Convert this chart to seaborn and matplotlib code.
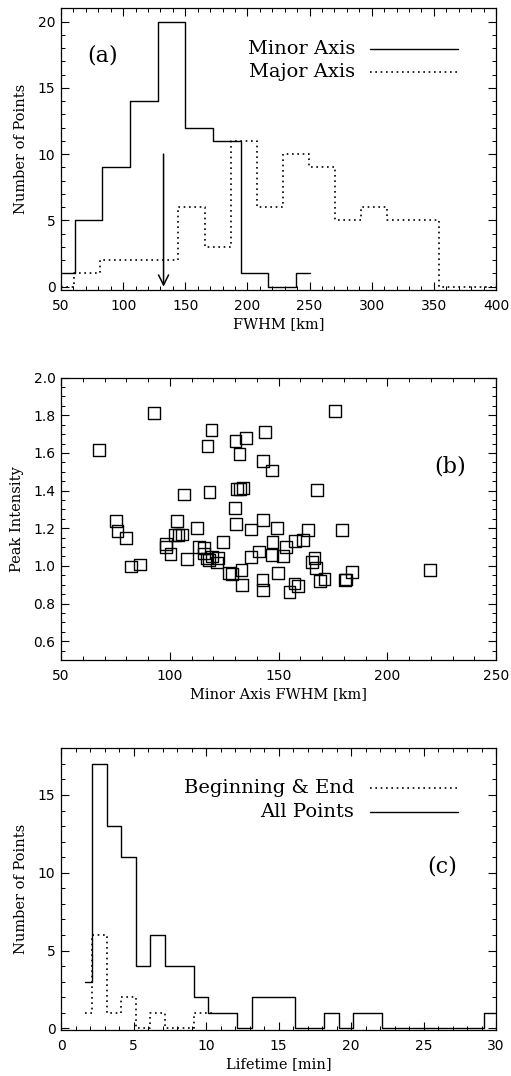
import matplotlib
matplotlib.use("Agg")
import matplotlib.pyplot as plt
from matplotlib.ticker import MultipleLocator, FormatStrFormatter
import seaborn as sns

# panel (a): FWHM histograms (bin centres, counts)
minor_centers = [50.0, 72.2, 94.4, 116.7, 138.9, 161.1, 183.3, 205.6, 227.8, 250.0]
minor_counts = [1, 5, 9, 14, 20, 12, 11, 1, 0, 1]
major_centers = [50, 71, 92, 113, 134, 155, 176, 197, 218, 239, 260, 281, 302,
                 323, 344, 365, 386, 407]
major_counts = [0, 1, 2, 2, 2, 6, 3, 11, 6, 10, 9, 5, 6, 5, 5, 0, 0, 0]
mean_minor = 132.5

# panel (b): minor axis FWHM vs peak intensity
fwhm = [67.5, 92.8, 75.4, 76.0, 80.0, 82.2, 86.3, 98.3, 98.3, 100.3,
        102.4, 104.0, 105.5, 103.5, 106.7, 107.8, 112.7, 113.6, 115.8, 115.9,
        117.0, 118.1, 119.3, 121.6, 122.3, 124.6, 117.3, 119.2, 118.3, 127.3,
        128.6, 133.0, 133.1, 130.0, 130.4, 130.2, 132.1, 134.9, 130.8, 132.2,
        133.6, 137.2, 137.4, 141.2, 142.7, 143.8, 142.8, 146.9, 147.2, 146.9,
        142.6, 142.7, 149.9, 149.2, 152.2, 153.4, 157.6, 161.1, 155.0, 157.3,
        159.1, 163.7, 165.3, 166.5, 167.1, 167.8, 169.1, 171.1, 176.1, 179.1,
        180.5, 181.2, 183.7, 219.8]
peak = [1.617, 1.811, 1.240, 1.186, 1.150, 0.997, 1.008, 1.118, 1.100, 1.063,
        1.165, 1.165, 1.167, 1.238, 1.379, 1.037, 1.202, 1.100, 1.094, 1.066,
        1.039, 1.031, 1.050, 1.018, 1.040, 1.125, 1.639, 1.721, 1.392, 0.961,
        0.956, 0.978, 0.898, 1.306, 1.222, 1.662, 1.594, 1.678, 1.408, 1.410,
        1.412, 1.193, 1.049, 1.077, 1.245, 1.711, 1.556, 1.507, 1.127, 1.058,
        0.925, 0.872, 0.961, 1.202, 1.054, 1.100, 1.133, 1.138, 0.862, 0.907,
        0.894, 1.191, 1.019, 1.040, 0.990, 1.405, 0.921, 0.929, 1.822, 1.191,
        0.925, 0.928, 0.969, 0.979]

# panel (c): lifetime histograms
life_centers = [1.65, 2.65, 3.65, 4.65, 5.65, 6.65, 7.65, 8.65, 9.65, 10.65,
                11.65, 12.65, 13.65, 14.65, 15.65, 16.65, 17.65, 18.65, 19.65, 20.65,
                21.65, 22.65, 23.65, 24.65, 25.65, 26.65, 27.65, 28.65, 29.65, 30.65]
all_counts = [3, 17, 13, 11, 4, 6, 4, 4, 2, 1,
              1, 0, 2, 2, 2, 0, 0, 1, 0, 1,
              1, 0, 0, 0, 0, 0, 0, 0, 1, 0]
be_centers = [1.65, 2.65, 3.65, 4.65, 5.65, 6.65, 7.65, 8.65, 9.65, 10.65]
be_counts = [1, 6, 1, 2, 0, 1, 0, 0, 1, 1]

sns.set_style("ticks")
plt.rcParams["font.family"] = ["DejaVu Sans"]
plt.rcParams.update({
    "xtick.direction": "in", "ytick.direction": "in",
    "xtick.top": True, "ytick.right": True,
    "xtick.major.size": 6, "ytick.major.size": 6,
    "xtick.minor.size": 3, "ytick.minor.size": 3,
    "xtick.major.width": 0.8, "ytick.major.width": 0.8,
    "xtick.minor.width": 0.7, "ytick.minor.width": 0.7,
    "xtick.major.pad": 6.5, "ytick.major.pad": 4,
    "xtick.labelsize": 10, "ytick.labelsize": 10,
    "axes.linewidth": 0.9, "axes.edgecolor": "black",
    "xtick.color": "black", "ytick.color": "black",
    "xtick.labelcolor": "black", "ytick.labelcolor": "black",
    "text.color": "black", "axes.labelcolor": "black",
})

SERIF = "DejaVu Serif"
DOT = (0, (1, 2.2))

fig = plt.figure(figsize=(5.11, 10.76), dpi=100)
ax_a = fig.add_axes([0.1194, 0.7305, 0.8513, 0.2618])
ax_b = fig.add_axes([0.1194, 0.3866, 0.8513, 0.2624])
ax_c = fig.add_axes([0.1194, 0.04275, 0.8513, 0.2618])


def style_axis(ax, xmaj, xmin, ymaj, ymin):
    ax.xaxis.set_major_locator(MultipleLocator(xmaj))
    ax.xaxis.set_minor_locator(MultipleLocator(xmin))
    ax.yaxis.set_major_locator(MultipleLocator(ymaj))
    ax.yaxis.set_minor_locator(MultipleLocator(ymin))
    ax.tick_params(which="both", top=True, right=True, direction="in")
    for sp in ax.spines.values():
        sp.set_visible(True)


def add_legend(ax, rows, y0, y1, xt):
    for (label, ls), yy in zip(rows, (y0, y1)):
        ax.plot([0.710, 0.913], [yy, yy], transform=ax.transAxes, color="black",
                lw=1.2 if ls != "-" else 1, ls=ls)
        ax.text(xt, yy, label, transform=ax.transAxes, ha="right", va="center",
                fontsize=14, family=SERIF)


# (a)
sns.lineplot(x=minor_centers, y=minor_counts, drawstyle="steps-mid",
             color="black", lw=1, estimator=None, ax=ax_a)
sns.lineplot(x=major_centers, y=major_counts, drawstyle="steps-mid",
             color="black", lw=1.2, linestyle=DOT, estimator=None, ax=ax_a)
ax_a.annotate("", xy=(mean_minor, 0), xytext=(mean_minor, 10),
              arrowprops=dict(arrowstyle="->", lw=1.1, color="black",
                              shrinkA=0, shrinkB=0, mutation_scale=18))
ax_a.set_xlim(50, 400)
ax_a.set_ylim(-0.25, 21)
style_axis(ax_a, 50, 10, 5, 1)
ax_a.set_xlabel("FWHM [km]", family=SERIF, fontsize=10.5)
ax_a.set_ylabel("Number of Points", family=SERIF, fontsize=10.5)
ax_a.xaxis.set_label_coords(0.5, -0.096)
ax_a.yaxis.set_label_coords(-0.0754, 0.5)
ax_a.text(0.0966, 0.834, "(a)", transform=ax_a.transAxes, ha="center",
          va="center", fontsize=16, family=SERIF)
add_legend(ax_a, [("Minor Axis", "-"), ("Major Axis", DOT)], 0.8555, 0.774, 0.676)

# (b)
sns.scatterplot(x=fwhm, y=peak, marker="s", s=72, facecolor="none",
                edgecolor="black", linewidth=1.0, ax=ax_b)
ax_b.set_xlim(50, 250)
ax_b.set_ylim(0.5, 2.0)
style_axis(ax_b, 50, 10, 0.2, 0.05)
ax_b.yaxis.set_major_formatter(FormatStrFormatter("%.1f"))
ax_b.set_xlabel("Minor Axis FWHM [km]", family=SERIF, fontsize=10.5)
ax_b.set_ylabel("Peak Intensity", family=SERIF, fontsize=10.5)
ax_b.xaxis.set_label_coords(0.5, -0.096)
ax_b.yaxis.set_label_coords(-0.0853, 0.5)
ax_b.text(0.894, 0.687, "(b)", transform=ax_b.transAxes, ha="center",
          va="center", fontsize=16, family=SERIF)

# (c)
sns.lineplot(x=be_centers, y=be_counts, drawstyle="steps-mid",
             color="black", lw=1.2, linestyle=DOT, estimator=None, ax=ax_c)
sns.lineplot(x=life_centers, y=all_counts, drawstyle="steps-mid",
             color="black", lw=1, estimator=None, ax=ax_c)
ax_c.set_xlim(0, 30)
ax_c.set_ylim(-0.11, 18)
style_axis(ax_c, 5, 1, 5, 1)
ax_c.set_xlabel("Lifetime [min]", family=SERIF, fontsize=10.5)
ax_c.set_ylabel("Number of Points", family=SERIF, fontsize=10.5)
ax_c.xaxis.set_label_coords(0.5, -0.096)
ax_c.yaxis.set_label_coords(-0.0754, 0.5)
ax_c.text(0.876, 0.579, "(c)", transform=ax_c.transAxes, ha="center",
          va="center", fontsize=16, family=SERIF)
add_legend(ax_c, [("Beginning & End", DOT), ("All Points", "-")], 0.859, 0.774, 0.674)

fig.savefig("out.png", dpi=100)
